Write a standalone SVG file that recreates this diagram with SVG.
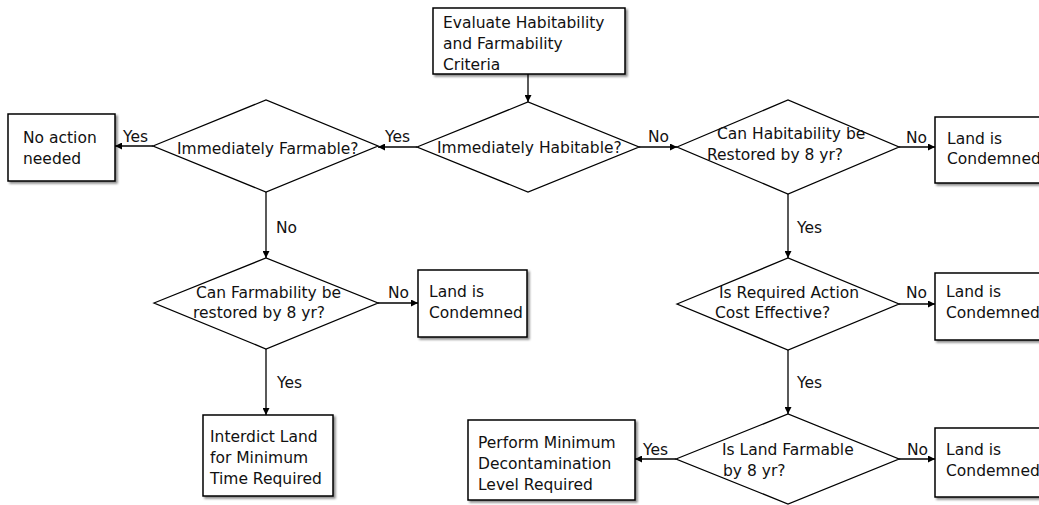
<svg xmlns="http://www.w3.org/2000/svg" width="1039" height="505" viewBox="0 0 1039 505">
<defs>
<style>
.box{fill:#fff;stroke:#000;stroke-width:1.5;filter:url(#sh)}
.dia{fill:#fff;stroke:#000;stroke-width:1.3}
.t{font-family:"DejaVu Sans",Verdana,sans-serif;font-size:15.5px;fill:#111}
.c line{stroke:#000;stroke-width:1.3;marker-end:url(#ah)}
</style>
<filter id="sh" x="-10%" y="-10%" width="130%" height="130%">
<feDropShadow dx="2" dy="2" stdDeviation="1.2" flood-color="#000" flood-opacity="0.45"/>
</filter>
<marker id="ah" viewBox="0 0 10 10" refX="10" refY="5" markerWidth="7" markerHeight="7" markerUnits="userSpaceOnUse" orient="auto">
<path d="M0,0 L10,5 L0,10 z" fill="#000"/>
</marker>
</defs>
<rect width="1039" height="505" fill="#fff"/>

<g class="c" id="connectors">
<line x1="528" y1="74" x2="528" y2="102"/>
<line x1="417" y1="147" x2="378" y2="147"/>
<line x1="153" y1="146" x2="115" y2="146"/>
<line x1="639" y1="147" x2="677" y2="147"/>
<line x1="899" y1="147" x2="935" y2="147"/>
<line x1="266" y1="192" x2="266" y2="258"/>
<line x1="378" y1="303" x2="418" y2="303"/>
<line x1="266" y1="349" x2="266" y2="415"/>
<line x1="788" y1="194" x2="788" y2="258"/>
<line x1="899" y1="304" x2="935" y2="304"/>
<line x1="788" y1="350" x2="788" y2="414"/>
<line x1="676" y1="459" x2="635" y2="459"/>
<line x1="899" y1="459" x2="935" y2="459"/>
</g>

<g id="labels" class="t">
<text x="123" y="142">Yes</text>
<text x="385" y="142">Yes</text>
<text x="648" y="142">No</text>
<text x="906" y="143">No</text>
<text x="276" y="233">No</text>
<text x="797" y="233">Yes</text>
<text x="388" y="298">No</text>
<text x="906" y="298">No</text>
<text x="277" y="388">Yes</text>
<text x="797" y="388">Yes</text>
<text x="643" y="455">Yes</text>
<text x="907" y="455">No</text>
</g>

<g id="evaluate">
<rect class="box" x="433" y="8" width="192" height="66"/>
<text class="t" x="443" y="28">Evaluate Habitability</text>
<text class="t" x="443" y="49">and Farmability</text>
<text class="t" x="443" y="70">Criteria</text>
</g>

<g id="immediately-habitable">
<polygon class="dia" points="417,147 528,102 639,147 528,192"/>
<text class="t" x="437" y="153">Immediately Habitable?</text>
</g>

<g id="immediately-farmable">
<polygon class="dia" points="153,146 266,100 378,146 266,192"/>
<text class="t" x="177" y="154">Immediately Farmable?</text>
</g>

<g id="no-action">
<rect class="box" x="8" y="114" width="107" height="67"/>
<text class="t" x="23" y="143">No action</text>
<text class="t" x="23" y="164">needed</text>
</g>

<g id="can-habitability">
<polygon class="dia" points="677,147 788,100 899,147 788,194"/>
<text class="t" x="717" y="139">Can Habitability be</text>
<text class="t" x="707" y="160">Restored by 8 yr?</text>
</g>

<g id="condemned-1">
<rect class="box" x="935" y="117" width="120" height="66"/>
<text class="t" x="947" y="144">Land is</text>
<text class="t" x="947" y="164">Condemned</text>
</g>

<g id="can-farmability">
<polygon class="dia" points="154,303 266,258 378,303 266,349"/>
<text class="t" x="196" y="298">Can Farmability be</text>
<text class="t" x="193" y="318">restored by 8 yr?</text>
</g>

<g id="condemned-2">
<rect class="box" x="418" y="270" width="109" height="67"/>
<text class="t" x="429" y="297">Land is</text>
<text class="t" x="429" y="318">Condemned</text>
</g>

<g id="required-action">
<polygon class="dia" points="677,304 788,258 899,304 788,350"/>
<text class="t" x="719" y="298">Is Required Action</text>
<text class="t" x="715" y="318">Cost Effective?</text>
</g>

<g id="condemned-3">
<rect class="box" x="935" y="273" width="120" height="67"/>
<text class="t" x="946" y="297">Land is</text>
<text class="t" x="946" y="318">Condemned</text>
</g>

<g id="interdict">
<rect class="box" x="203" y="415" width="130" height="81"/>
<text class="t" x="210" y="442">Interdict Land</text>
<text class="t" x="210" y="463">for Minimum</text>
<text class="t" x="210" y="484">Time Required</text>
</g>

<g id="land-farmable">
<polygon class="dia" points="676,459 788,414 899,459 788,504"/>
<text class="t" x="722" y="455">Is Land Farmable</text>
<text class="t" x="723" y="476">by 8 yr?</text>
</g>

<g id="perform">
<rect class="box" x="468" y="420" width="167" height="80"/>
<text class="t" x="478" y="448">Perform Minimum</text>
<text class="t" x="478" y="469">Decontamination</text>
<text class="t" x="478" y="490">Level Required</text>
</g>

<g id="condemned-4">
<rect class="box" x="935" y="428" width="120" height="69"/>
<text class="t" x="946" y="455">Land is</text>
<text class="t" x="946" y="476">Condemned</text>
</g>
</svg>
